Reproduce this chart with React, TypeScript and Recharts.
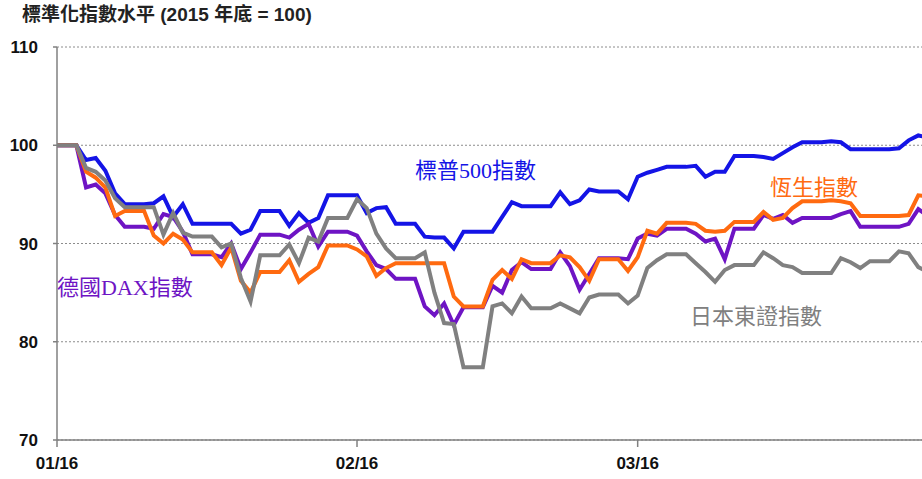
import React from 'react';
import { LineChart, Line, XAxis, YAxis, CartesianGrid } from 'recharts';

// Day index: 0 = 1 Jan 2016 ... 90 = 31 Mar 2016 (calendar days, non-trading days carried)
const days = Array.from({ length: 91 }, (_, i) => i);

const sp500 = [
  100, 100, 100, 98.5, 98.7, 97.4, 95.1, 94.0, 94.0, 94.0,
  94.1, 94.8, 92.7, 94.0, 92.0, 92.0, 92.0, 92.0, 92.0, 91.0,
  91.4, 93.3, 93.3, 93.3, 91.8, 93.1, 92.1, 92.6, 94.9, 94.9,
  94.9, 94.9, 93.1, 93.6, 93.7, 92.0, 92.0, 92.0, 90.7, 90.6,
  90.6, 89.5, 91.2, 91.2, 91.2, 91.2, 92.7, 94.2, 93.8, 93.8,
  93.8, 93.8, 95.2, 94.0, 94.4, 95.5, 95.3, 95.3, 95.3, 94.5,
  96.8, 97.2, 97.5, 97.8, 97.8, 97.8, 97.9, 96.8, 97.3, 97.3,
  98.9, 98.9, 98.9, 98.8, 98.6, 99.2, 99.8, 100.3, 100.3, 100.3,
  100.4, 100.3, 99.6, 99.6, 99.6, 99.6, 99.6, 99.7, 100.5, 101.0,
  100.8,
];

const hangSeng = [
  100, 100, 100, 97.3, 96.7, 95.7, 92.8, 93.3, 93.3, 93.3,
  90.8, 90.0, 91.0, 90.4, 89.1, 89.1, 89.1, 87.8, 89.6, 86.2,
  85.0, 87.1, 87.1, 87.1, 88.3, 86.1, 86.9, 87.6, 89.8, 89.8,
  89.8, 89.4, 88.7, 86.7, 87.5, 88.0, 88.0, 88.0, 88.0, 88.0,
  88.0, 84.6, 83.6, 83.6, 83.6, 86.3, 87.3, 86.4, 88.4, 88.0,
  88.0, 88.0, 88.8, 88.6, 87.6, 86.2, 88.4, 88.4, 88.4, 87.2,
  88.6, 91.3, 91.0, 92.1, 92.1, 92.1, 92.0, 91.3, 91.2, 91.3,
  92.2, 92.2, 92.2, 93.2, 92.4, 92.6, 93.6, 94.3, 94.3, 94.3,
  94.4, 94.3, 94.1, 92.8, 92.8, 92.8, 92.8, 92.8, 92.9, 94.9,
  94.8,
];

const dax = [
  100, 100, 100, 95.7, 96.0, 95.1, 92.9, 91.7, 91.7, 91.7,
  91.5, 93.0, 92.7, 91.2, 88.9, 88.9, 88.9, 88.6, 90.0, 87.4,
  89.1, 90.9, 90.9, 90.9, 90.6, 91.4, 92.0, 89.7, 91.2, 91.2,
  91.2, 90.8, 89.2, 87.8, 87.4, 86.4, 86.4, 86.4, 83.6, 82.7,
  83.9, 81.7, 83.5, 83.5, 83.5, 85.7, 85.0, 87.3, 88.1, 87.4,
  87.4, 87.4, 89.1, 87.7, 85.3, 86.9, 88.5, 88.5, 88.5, 88.4,
  90.5, 91.0, 90.8, 91.5, 91.5, 91.5, 91.0, 90.2, 90.5, 88.4,
  91.5, 91.5, 91.5, 92.9, 92.5, 92.9, 92.1, 92.6, 92.6, 92.6,
  92.6, 93.0, 93.3, 91.7, 91.7, 91.7, 91.7, 91.7, 92.0, 93.5,
  92.8,
];

const topix = [
  100, 100, 100, 97.7, 97.3, 96.4, 94.6, 93.7, 93.7, 93.7,
  93.7, 90.9, 93.1, 91.1, 90.7, 90.7, 90.7, 89.6, 90.0, 86.5,
  84.1, 88.8, 88.8, 88.8, 89.9, 88.0, 90.6, 90.2, 92.6, 92.6,
  92.6, 94.5, 93.6, 91.0, 89.5, 88.5, 88.5, 88.5, 89.1, 85.0,
  81.9, 81.8, 77.4, 77.4, 77.4, 83.6, 83.9, 82.9, 84.6, 83.4,
  83.4, 83.4, 83.9, 83.4, 82.9, 84.5, 84.8, 84.8, 84.8, 83.9,
  84.7, 87.5, 88.3, 88.9, 88.9, 88.9, 88.0, 87.1, 86.1, 87.3,
  87.8, 87.8, 87.8, 89.1, 88.5, 87.8, 87.6, 87.0, 87.0, 87.0,
  87.0, 88.5, 88.1, 87.5, 88.2, 88.2, 88.2, 89.2, 89.0, 87.6,
  87.1,
];

const xTicks = [0, 31, 60];
const xTickLabels = ['01/16', '02/16', '03/16'];
const yTicks = [70, 80, 90, 100, 110];

const data = days.map((d, i) => ({
  d,
  sp500: sp500[i],
  hangSeng: hangSeng[i],
  dax: dax[i],
  topix: topix[i],
}));

const BLUE = '#1414E6';
const ORANGE = '#FF6A10';
const PURPLE = '#6E14C4';
const GRAY = '#808080';

const tickFont = { fill: '#111', fontSize: 17, fontWeight: 'bold', fontFamily: "'Liberation Sans', Arial, sans-serif" };

const labelBase: React.CSSProperties = {
  position: 'absolute',
  whiteSpace: 'nowrap',
  lineHeight: 1,
};

export default function App() {
  return (
    <div style={{ position: 'absolute', left: 0, top: 0, width: 922, height: 479, overflow: 'hidden', background: '#fff' }}>
      <LineChart width={940} height={479} data={data} margin={{ top: 47, right: 12, bottom: 0, left: 0 }}>
        <CartesianGrid vertical={false} strokeDasharray="2 2" stroke="#8c8c8c" />
        <XAxis
          type="number"
          dataKey="d"
          domain={[0, 90]}
          ticks={xTicks}
          interval={0}
          allowDataOverflow
          tickFormatter={(v: number) => xTickLabels[xTicks.indexOf(v)] ?? ''}
          axisLine={{ stroke: '#808080', strokeWidth: 1.5 }}
          tickLine={{ stroke: '#808080', strokeWidth: 1.5 }}
          tickSize={7}
          tickMargin={10}
          tick={tickFont}
          height={39}
        />
        <YAxis
          type="number"
          domain={[70, 110]}
          ticks={yTicks}
          interval={0}
          allowDataOverflow
          axisLine={{ stroke: '#808080', strokeWidth: 1.5 }}
          tickLine={{ stroke: '#808080', strokeWidth: 1.5 }}
          tickSize={4}
          tickMargin={15}
          tick={tickFont}
          width={57}
        />
        <Line type="linear" dataKey="sp500" stroke={BLUE} strokeWidth={4} dot={false} isAnimationActive={false} />
        <Line type="linear" dataKey="dax" stroke={PURPLE} strokeWidth={4} dot={false} isAnimationActive={false} />
        <Line type="linear" dataKey="hangSeng" stroke={ORANGE} strokeWidth={4} dot={false} isAnimationActive={false} />
        <Line type="linear" dataKey="topix" stroke={GRAY} strokeWidth={4} dot={false} isAnimationActive={false} />
      </LineChart>

      <div style={{ ...labelBase, left: 22, top: 5, fontSize: 19, fontWeight: 'bold', color: '#222', fontFamily: "'Liberation Sans', 'Noto Sans CJK TC', sans-serif" }}>
        標準化指數水平 (2015 年底 = 100)
      </div>
      <div style={{ ...labelBase, left: 415, top: 160, fontSize: 22, color: BLUE, fontFamily: "'Liberation Serif', 'Noto Sans CJK TC', serif" }}>
        標普500指數
      </div>
      <div style={{ ...labelBase, left: 770, top: 174, fontSize: 22, color: ORANGE, fontFamily: "'Noto Sans CJK TC', sans-serif" }}>
        恆生指數
      </div>
      <div style={{ ...labelBase, left: 57, top: 277, fontSize: 22, color: PURPLE, fontFamily: "'Liberation Serif', 'Noto Sans CJK TC', serif" }}>
        德國DAX指數
      </div>
      <div style={{ ...labelBase, left: 690, top: 303, fontSize: 22, color: GRAY, fontFamily: "'Noto Sans CJK TC', sans-serif" }}>
        日本東證指數
      </div>
    </div>
  );
}
